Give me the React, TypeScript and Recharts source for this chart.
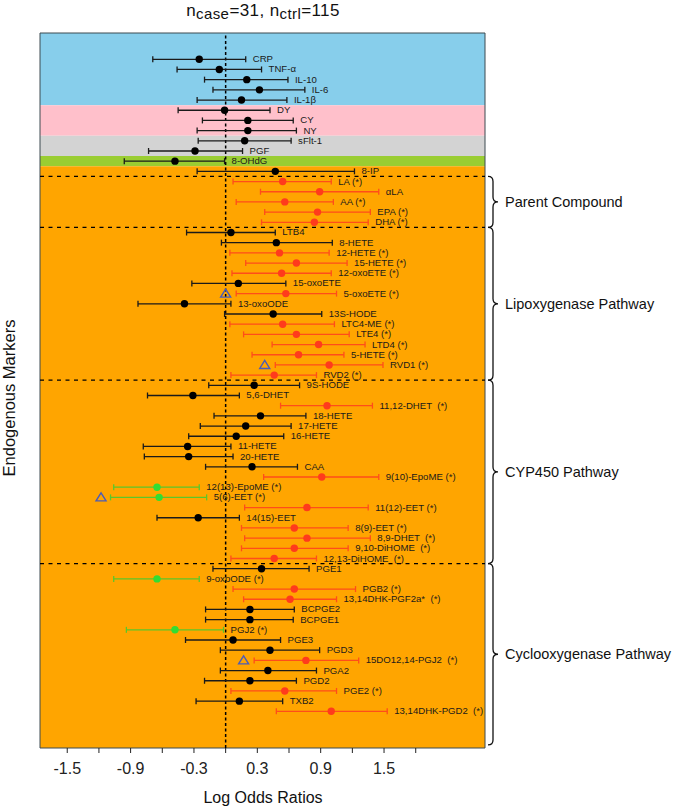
import React from 'react';
import { ScatterChart, Scatter, XAxis, YAxis, ErrorBar, ReferenceArea, ReferenceLine } from 'recharts';

const markers = [
  'CRP', 'TNF-α', 'IL-10', 'IL-6', 'IL-1β', 'DY', 'CY', 'NY', 'sFlt-1', 'PGF', '8-OHdG', '8-IP',
  'LA (*)', 'αLA', 'AA (*)', 'EPA (*)', 'DHA (*)',
  'LTB4', '8-HETE', '12-HETE (*)', '15-HETE (*)', '12-oxoETE (*)', '15-oxoETE', '5-oxoETE (*)', '13-oxoODE',
  '13S-HODE', 'LTC4-ME (*)', 'LTE4 (*)', 'LTD4 (*)', '5-HETE (*)', 'RVD1 (*)', 'RVD2 (*)',
  '9S-HODE', '5,6-DHET', '11,12-DHET  (*)', '18-HETE', '17-HETE', '16-HETE', '11-HETE', '20-HETE', 'CAA',
  '9(10)-EpoME (*)', '12(13)-EpoME (*)', '5(6)-EET (*)', '11(12)-EET (*)', '14(15)-EET', '8(9)-EET (*)',
  '8,9-DHET  (*)', '9,10-DiHOME  (*)', '12,13-DiHOME  (*)',
  'PGE1', '9-oxoODE (*)', 'PGB2 (*)', '13,14DHK-PGF2a*  (*)', 'BCPGE2', 'BCPGE1', 'PGJ2 (*)', 'PGE3', 'PGD3',
  '15DO12,14-PGJ2  (*)', 'PGA2', 'PGD2', 'PGE2 (*)', 'TXB2', '13,14DHK-PGD2  (*)',
];

const estimates = [
  -0.25, -0.06, 0.2, 0.32, 0.15, -0.01, 0.21, 0.21, 0.18, -0.29, -0.48, 0.47,
  0.54, 0.89, 0.56, 0.87, 0.84,
  0.05, 0.48, 0.51, 0.67, 0.53, 0.12, 0.57, -0.39, 0.45, 0.54, 0.67, 0.88, 0.69, 0.98, 0.46,
  0.27, -0.31, 0.96, 0.33, 0.19, 0.1, -0.36, -0.35, 0.25, 0.91, -0.65, -0.63, 0.77, -0.26, 0.65, 0.77, 0.65, 0.46,
  0.34, -0.65, 0.65, 0.61, 0.23, 0.23, -0.48, 0.07, 0.42, 0.76, 0.4, 0.23, 0.56, 0.13, 1.0,
];

const lowerCI = [
  -0.69, -0.46, -0.2, -0.12, -0.27, -0.45, -0.22, -0.27, -0.26, -0.73, -0.96, -0.27,
  0.07, 0.33, 0.1, 0.37, 0.34,
  -0.37, -0.04, 0.04, 0.19, 0.06, -0.32, 0.1, -0.83, -0.01, 0.04, 0.17, 0.44, 0.25, 0.47, 0.05,
  -0.16, -0.74, 0.52, -0.11, -0.24, -0.35, -0.78, -0.77, -0.19, 0.36, -1.06, -1.09, 0.18, -0.65, 0.15, 0.18, 0.15, 0.05,
  -0.12, -1.06, 0.07, 0.17, -0.19, -0.19, -0.94, -0.38, -0.05, 0.27, -0.05, -0.2, 0.05, -0.28, 0.48,
];

const upperCI = [
  0.19, 0.34, 0.59, 0.75, 0.58, 0.42, 0.64, 0.67, 0.62, 0.16, -0.01, 1.22,
  1.0, 1.45, 1.02, 1.37, 1.35,
  0.47, 1.01, 0.98, 1.15, 1.0, 0.57, 1.05, 0.05, 0.91, 1.03, 1.17, 1.32, 1.12, 1.49, 0.86,
  0.7, 0.13, 1.39, 0.76, 0.62, 0.55, 0.05, 0.07, 0.68, 1.45, -0.25, -0.18, 1.35, 0.13, 1.16, 1.37, 1.16, 0.86,
  0.79, -0.25, 1.23, 1.05, 0.65, 0.64, -0.02, 0.52, 0.89, 1.26, 0.86, 0.67, 1.05, 0.54, 1.53,
];

// k = not significant, r = higher in cases, g = lower in cases
const signif = [
  'k', 'k', 'k', 'k', 'k', 'k', 'k', 'k', 'k', 'k', 'k', 'k',
  'r', 'r', 'r', 'r', 'r',
  'k', 'k', 'r', 'r', 'r', 'k', 'r', 'k', 'k', 'r', 'r', 'r', 'r', 'r', 'r',
  'k', 'k', 'r', 'k', 'k', 'k', 'k', 'k', 'k', 'r', 'g', 'g', 'r', 'k', 'r', 'r', 'r', 'r',
  'k', 'g', 'r', 'r', 'k', 'k', 'g', 'k', 'k', 'r', 'k', 'k', 'r', 'k', 'r',
];

const triangleRows = [23, 30, 43, 59];
const triangleValues = [0.0, 0.37, -1.18, 0.17];

const groupNames = ['Parent Compound', 'Lipoxygenase Pathway', 'CYP450 Pathway', 'Cyclooxygenase Pathway'];
const groupFirst = [12, 17, 32, 50];
const groupLast = [16, 31, 49, 64];

const bandColors = ['#87CEEB', '#FFC0CB', '#D3D3D3', '#9ACD32', '#FFA500'];
const bandEdges = [-2.58, 4.5, 7.5, 9.5, 10.5, 67.6];

const xTicks = [-1.5, -1.2, -0.9, -0.6, -0.3, 0, 0.3, 0.6, 0.9, 1.2, 1.5, 1.8];
const xTickLabels = ['-1.5', '', '-0.9', '', '-0.3', '', '0.3', '', '0.9', '', '1.5', ''];

const xDomain = [-1.758, 2.456];
const yDomain = [-2.58, 67.6];

const FONT = '"Liberation Sans", Arial, Helvetica, sans-serif';

const palette: Record<string, { bar: string; dot: string }> = {
  k: { bar: '#1a1a1a', dot: '#000000' },
  r: { bar: '#FF4D1A', dot: '#FF3B1C' },
  g: { bar: '#5BC72A', dot: '#33DD33' },
};

const rows = markers.map((name, i) => ({
  name,
  y: i,
  x: estimates[i],
  err: [estimates[i] - lowerCI[i], upperCI[i] - estimates[i]],
  grp: signif[i],
}));

const labelRows = markers.map((name, i) => ({ name, y: i, x: upperCI[i] }));

const triangles = triangleRows.map((r, i) => ({ y: r, x: triangleValues[i] }));

const Brace = (props: any) => {
  const { x, y, width, height, label } = props;
  const bx = x + width + 8;
  const y1 = y;
  const y2 = y + height;
  const mid = (y1 + y2) / 2;
  const d = `M${bx - 5},${y1} Q${bx},${y1} ${bx},${y1 + 5} L${bx},${mid - 5} Q${bx},${mid} ${bx + 5},${mid} Q${bx},${mid} ${bx},${mid + 5} L${bx},${y2 - 5} Q${bx},${y2} ${bx - 5},${y2}`;
  return (
    <g>
      <path d={d} fill="none" stroke="#111" strokeWidth={1.3} />
      <text x={bx + 12} y={mid} dominantBaseline="central" fontSize={14.5} fontFamily={FONT} fill="#111">
        {label}
      </text>
    </g>
  );
};

const App: React.FC = () => {
  return (
    <div style={{ position: 'absolute', left: 0, top: 0, width: 673, height: 808, background: '#fff' }}>
      <ScatterChart width={673} height={808} margin={{ top: 33, right: 188, bottom: 30, left: 40 }}>
        <XAxis
          type="number"
          dataKey="x"
          domain={xDomain}
          ticks={xTicks}
          tickFormatter={(v: number) => xTickLabels[xTicks.findIndex((t) => Math.abs(t - v) < 1e-6)] ?? ''}
          axisLine={false}
          tickSize={5}
          tickMargin={10}
          tickLine={{ stroke: '#222' }}
          tick={{ fontSize: 16, fill: '#222', fontFamily: FONT }}
          height={30}
          interval={0}
        />
        <YAxis type="number" dataKey="y" domain={yDomain} reversed hide />

        {bandColors.map((c, i) => (
          <ReferenceArea
            key={`band-${i}`}
            x1={xDomain[0]}
            x2={xDomain[1]}
            y1={bandEdges[i]}
            y2={bandEdges[i + 1]}
            fill={c}
            fillOpacity={1}
            stroke="none"
            ifOverflow="visible"
          />
        ))}

        <ReferenceLine x={0} stroke="#000" strokeWidth={1.5} strokeDasharray="3 2.5" ifOverflow="visible" />
        {groupFirst.map((f, i) => (
          <ReferenceLine
            key={`sep-${i}`}
            y={f - 0.5}
            stroke="#000"
            strokeWidth={1.3}
            strokeDasharray="4 4.5"
            ifOverflow="visible"
          />
        ))}

        {groupNames.map((g, i) => (
          <ReferenceArea
            key={`brace-${i}`}
            x1={xDomain[0]}
            x2={xDomain[1]}
            y1={groupFirst[i] - 0.5}
            y2={i === groupNames.length - 1 ? 67.3 : groupLast[i] + 0.5}
            ifOverflow="visible"
            shape={(p: any) => <Brace {...p} label={g} />}
          />
        ))}

        <ReferenceArea
          x1={xDomain[0]}
          x2={xDomain[1]}
          y1={yDomain[0]}
          y2={yDomain[1]}
          fill="none"
          stroke="#3d4a50"
          strokeWidth={1}
          ifOverflow="visible"
        />

        {['k', 'r', 'g'].map((k) => (
          <Scatter
            key={`s-${k}`}
            data={rows.filter((r) => r.grp === k)}
            isAnimationActive={false}
            shape={(p: any) => <circle cx={p.cx} cy={p.cy} r={3.7} fill={palette[k].dot} />}
          >
            <ErrorBar dataKey="err" direction="x" width={3} stroke={palette[k].bar} strokeWidth={1.3} />
          </Scatter>
        ))}

        <Scatter
          data={labelRows}
          isAnimationActive={false}
          shape={(p: any) => (
            <text
              x={p.cx + 7}
              y={p.cy - 0.5}
              dominantBaseline="central"
              fontSize={9.6}
              fontFamily={FONT}
              fill="#1a1a1a"
              style={{ whiteSpace: 'pre' }}
            >
              {p.payload.name}
            </text>
          )}
        />

        <Scatter
          data={triangles}
          isAnimationActive={false}
          shape={(p: any) => (
            <path
              d={`M${p.cx},${p.cy - 4.5} L${p.cx + 5},${p.cy + 3.5} L${p.cx - 5},${p.cy + 3.5} Z`}
              fill="none"
              stroke="#4B5CB8"
              strokeWidth={1.4}
            />
          )}
        />
      </ScatterChart>

      <svg
        width={673}
        height={808}
        style={{ position: 'absolute', left: 0, top: 0, pointerEvents: 'none' }}
      >
        <text x={263} y={16} textAnchor="middle" fontSize={17} fontFamily={FONT} fill="#111" letterSpacing={0.4}>
          <tspan>n</tspan>
          <tspan fontSize={15} dy={3}>case</tspan>
          <tspan dy={-3}>=31, n</tspan>
          <tspan fontSize={15} dy={3}>ctrl</tspan>
          <tspan dy={-3}>=115</tspan>
        </text>
        <text
          x={0}
          y={0}
          transform="translate(15, 398) rotate(-90)"
          textAnchor="middle"
          fontSize={16.5}
          fontFamily={FONT}
          fill="#111"
        >
          Endogenous Markers
        </text>
        <text x={263} y={803} textAnchor="middle" fontSize={16} fontFamily={FONT} fill="#111">
          Log Odds Ratios
        </text>
      </svg>
    </div>
  );
};

export default App;
